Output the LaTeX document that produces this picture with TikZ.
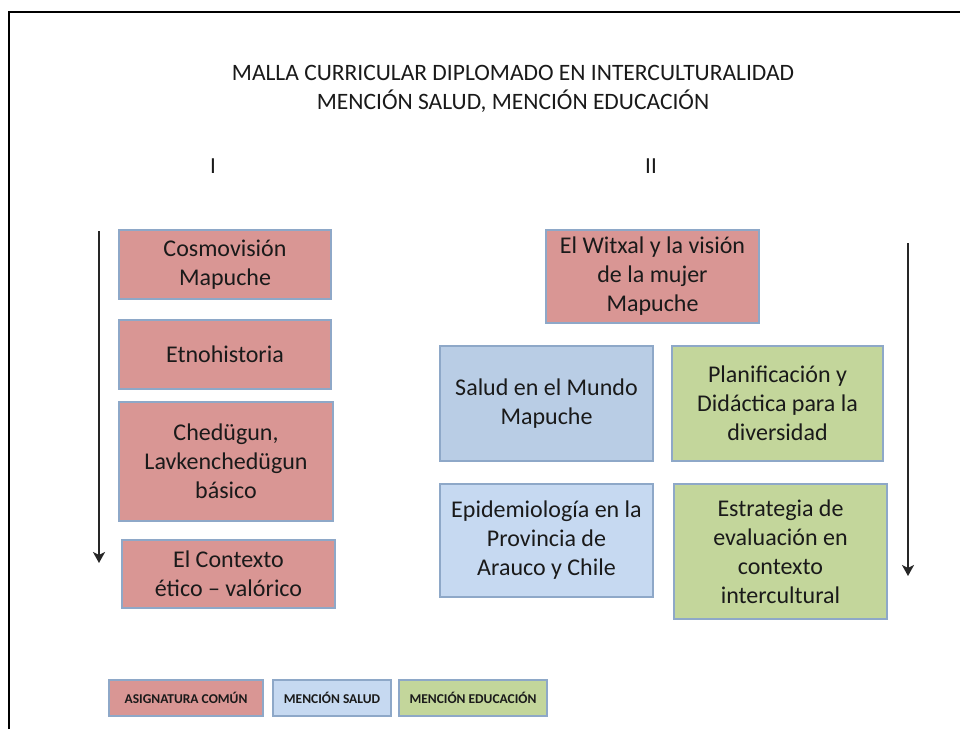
\documentclass[tikz,border=0pt]{standalone}
\usepackage{fontspec}
\setmainfont{Carlito}
\usetikzlibrary{arrows.meta}
\definecolor{redfill}{HTML}{D99694}
\definecolor{bluefill}{HTML}{B9CDE5}
\definecolor{bluefillb}{HTML}{C6D9F1}
\definecolor{greenfill}{HTML}{C3D69B}
\definecolor{edgeblue}{HTML}{8EA8C8}
\definecolor{txt}{HTML}{1A1A1A}
\tikzset{
  course/.style={draw=edgeblue, line width=1.2pt, align=center, text=txt,
    font=\fontsize{24}{29}\selectfont, inner sep=2pt},
  legendbox/.style={draw=edgeblue, line width=1.2pt, text=txt,
    font=\fontsize{13.5}{15}\selectfont\bfseries, inner sep=1pt},
  timearrow/.style={line width=2.4pt, draw=black!85, -{Stealth[length=11pt,width=12pt,inset=3pt]}},
}
\begin{document}
\begin{tikzpicture}[x=1pt,y=-1pt]
\useasboundingbox (0,0) rectangle (960,729);
\fill[white] (0,0) rectangle (960,729);
% frame
\draw[line width=2.5pt] (9,729) -- (9,12) -- (960,12);
% title
\node[align=center, text=txt, font=\fontsize{23.5}{29}\selectfont] (title) at (513,89)
  {MALLA CURRICULAR DIPLOMADO EN INTERCULTURALIDAD\\MENCIÓN SALUD, MENCIÓN EDUCACIÓN};
\node[text=txt, font=\fontsize{23}{28}\selectfont] (semI) at (213,166) {I};
\node[text=txt, font=\fontsize{23}{28}\selectfont] (semII) at (651,166) {II};
% semester I
\node[course, fill=redfill, minimum width=212pt, minimum height=69pt] (cosmo) at (225,264.5) {Cosmovisión\\Mapuche};
\node[course, fill=redfill, minimum width=212pt, minimum height=69pt] (etno) at (225,354.5) {Etnohistoria};
\node[course, fill=redfill, minimum width=214pt, minimum height=119pt] (ched) at (226,461.5) {Chedügun,\\Lavkenchedügun\\básico};
\node[course, fill=redfill, minimum width=213pt, minimum height=68pt] (ctx) at (228.5,574) {El Contexto\\ético – valórico};
% semester II
\node[course, fill=redfill, minimum width=213pt, minimum height=93pt] (witxal) at (652.5,276.5) {El Witxal y la visión\\de la mujer\\Mapuche};
\node[course, fill=bluefill, minimum width=213pt, minimum height=115pt] (salud) at (546.5,403.5) {Salud en el Mundo\\Mapuche};
\node[course, fill=greenfill, minimum width=211pt, minimum height=115pt] (plan) at (777.5,403.5) {Planificación y\\Didáctica para la\\diversidad};
\node[course, fill=bluefillb, minimum width=213pt, minimum height=113pt] (epi) at (546.5,540.5) {Epidemiología en la\\Provincia de\\Arauco y Chile};
\node[course, fill=greenfill, minimum width=213pt, minimum height=135pt] (estr) at (780.5,551.5) {Estrategia de\\evaluación en\\contexto\\intercultural};
% arrows
\coordinate (la1) at (99,231);
\coordinate (la2) at (99,563);
\coordinate (ra1) at (908,243);
\coordinate (ra2) at (908,576);
\draw[timearrow] (la1) -- (la2);
\draw[timearrow] (ra1) -- (ra2);
% legend
\node[legendbox, fill=redfill, minimum width=154pt, minimum height=36pt] (legA) at (186,698) {ASIGNATURA COMÚN};
\node[legendbox, fill=bluefillb, minimum width=118pt, minimum height=36pt] (legS) at (332,698) {MENCIÓN SALUD};
\node[legendbox, fill=greenfill, minimum width=148pt, minimum height=36pt] (legE) at (473,698) {MENCIÓN EDUCACIÓN};
\end{tikzpicture}
\end{document}
